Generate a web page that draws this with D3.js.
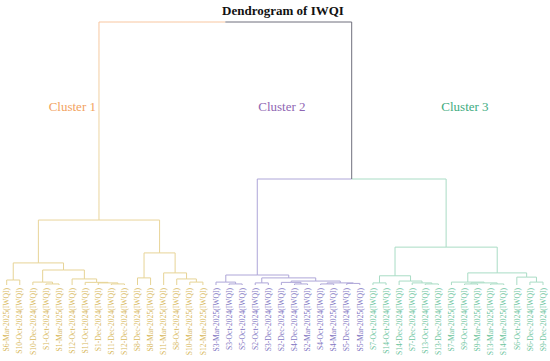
<!DOCTYPE html>
<html>
<head>
<meta charset="utf-8">
<script src="https://cdn.jsdelivr.net/npm/d3@7"></script>
<style>
  body { margin: 0; background: #fff; }
  text { font-family: "Liberation Serif", "Times New Roman", serif; }
</style>
</head>
<body>
<svg id="chart" width="550" height="361"></svg>
<script>
// leaf order as it appears along the bottom of the dendrogram
const leafLabels = [
  "S6-Mar-2025(IWQI)", "S10-Oct-2024(IWQI)", "S10-Dec-2024(IWQI)", "S1-Oct-2024(IWQI)",
  "S1-Mar-2025(IWQI)", "S12-Oct-2024(IWQI)", "S11-Oct-2024(IWQI)", "S1-Dec-2024(IWQI)",
  "S11-Dec-2024(IWQI)", "S12-Dec-2024(IWQI)", "S8-Dec-2024(IWQI)", "S8-Mar-2025(IWQI)",
  "S11-Mar-2025(IWQI)", "S8-Oct-2024(IWQI)", "S10-Mar-2025(IWQI)", "S12-Mar-2025(IWQI)",
  "S3-Mar-2025(IWQI)", "S3-Oct-2024(IWQI)", "S5-Oct-2024(IWQI)", "S2-Oct-2024(IWQI)",
  "S3-Dec-2024(IWQI)", "S2-Dec-2024(IWQI)", "S4-Dec-2024(IWQI)", "S2-Mar-2025(IWQI)",
  "S4-Oct-2024(IWQI)", "S4-Mar-2025(IWQI)", "S5-Dec-2024(IWQI)", "S5-Mar-2025(IWQI)",
  "S7-Oct-2024(IWQI)", "S14-Oct-2024(IWQI)", "S14-Dec-2024(IWQI)", "S7-Dec-2024(IWQI)",
  "S13-Oct-2024(IWQI)", "S13-Dec-2024(IWQI)", "S7-Mar-2025(IWQI)", "S9-Oct-2024(IWQI)",
  "S9-Mar-2025(IWQI)", "S13-Mar-2025(IWQI)", "S14-Mar-2025(IWQI)", "S6-Oct-2024(IWQI)",
  "S6-Dec-2024(IWQI)", "S9-Dec-2024(IWQI)"
];

// merges, scipy style: [left id, right id, distance]; new ids start at 42
const linkage = [
  [3, 4, 0.4], [2, 42, 1.1], [0, 1, 1.9], [8, 9, 0.4], [7, 45, 0.8],
  [6, 46, 1.0], [5, 47, 2.3], [43, 48, 5.7], [44, 49, 8.4], [10, 11, 2.7],
  [14, 15, 1.1], [13, 52, 2.3], [12, 53, 4.6], [51, 54, 12.2], [50, 55, 24.7],
  [17, 18, 0.4], [16, 57, 1.1], [19, 20, 0.8], [22, 23, 0.4], [21, 60, 1.0],
  [24, 25, 0.4], [26, 27, 0.6], [62, 63, 0.8], [61, 64, 1.5], [59, 65, 2.7],
  [58, 66, 3.8], [28, 29, 0.8], [32, 33, 0.4], [31, 69, 0.8], [30, 70, 1.5],
  [68, 71, 3.5], [35, 36, 0.4], [37, 38, 0.4], [73, 74, 0.8], [34, 75, 1.1],
  [40, 41, 1.1], [39, 77, 3.0], [76, 78, 4.6], [72, 79, 14.4], [67, 80, 40.3],
  [56, 81, 100]
];

const clusterNames = ["Cluster 1", "Cluster 2", "Cluster 3"];
const clusterTops = [56, 67, 80];   // node id heading each cluster
const TITLE = "Dendrogram of IWQI";

// colours
const LINE_COLORS = ["url(#grad1)", "#aea6d8", "#a9dcc5"];
const LEAF_COLORS = ["#d8b95e", "#7f76c2", "#6cc49d"];
const NAME_COLORS = ["#f2a25e", "#8f66b3", "#3eab80"];
const ABOVE_COLOR = "#6f6f7d";

const svg = d3.select("#chart");

const defs = svg.append("defs");
const N = leafLabels.length;
const x = d3.scalePoint().domain(d3.range(N)).range([6.7, 543]);
const y = d3.scaleLinear().domain([0, 100]).range([285, 22]);

const g1 = defs.append("linearGradient")
  .attr("id", "grad1")
  .attr("gradientUnits", "userSpaceOnUse")
  .attr("x1", 0).attr("x2", 0)
  .attr("y1", y(100)).attr("y2", y(0));
g1.append("stop").attr("offset", "0%").attr("stop-color", "#f8c6a0");
g1.append("stop").attr("offset", "45%").attr("stop-color", "#ecd6a2");
g1.append("stop").attr("offset", "100%").attr("stop-color", "#e6d394");

// build nodes
const nodes = d3.range(N).map(i => ({ id: i, x: x(i), h: 0, leaves: [i] }));
linkage.forEach(([a, b, h], k) => {
  const A = nodes[a], B = nodes[b];
  nodes.push({ id: N + k, x: (A.x + B.x) / 2, h: h, kids: [A, B],
               leaves: A.leaves.concat(B.leaves) });
});

const clusterOfLeaf = new Array(N);
clusterTops.forEach((t, c) => nodes[t].leaves.forEach(l => clusterOfLeaf[l] = c));
nodes.forEach(n => {
  const s = new Set(n.leaves.map(l => clusterOfLeaf[l]));
  n.cluster = s.size === 1 ? [...s][0] : -1;
});

// one path per parent->child link
const links = [];
nodes.filter(n => n.kids).forEach(n => {
  n.kids.forEach(c => links.push({ parent: n, child: c }));
});

svg.append("g")
  .selectAll("path")
  .data(links)
  .join("path")
  .attr("d", d => `M${d.child.x},${y(d.child.h)}V${y(d.parent.h)}H${d.parent.x}`)
  .attr("fill", "none")
  .attr("stroke", d => d.child.cluster >= 0 ? LINE_COLORS[d.child.cluster] : ABOVE_COLOR)
  .attr("stroke-width", 1);

// leaf labels
svg.append("g")
  .selectAll("text")
  .data(leafLabels)
  .join("text")
  .attr("transform", (d, i) => `translate(${x(i)},${y(0) + 3}) rotate(-90)`)
  .attr("text-anchor", "end")
  .attr("dy", "0.35em")
  .attr("font-size", 7.6)
  .attr("fill", (d, i) => LEAF_COLORS[clusterOfLeaf[i]])
  .text(d => d);

// cluster names
const nameDx = [0, -6, 7];
svg.append("g")
  .selectAll("text")
  .data(clusterNames)
  .join("text")
  .attr("x", (d, c) => {
    if (c === 0) return nodes[clusterTops[0]].x - 3;
    const lv = nodes[clusterTops[c]].leaves.map(l => x(l));
    return d3.mean(d3.extent(lv)) + nameDx[c];
  })
  .attr("y", 111)
  .attr("text-anchor", (d, c) => c === 0 ? "end" : "middle")
  .attr("font-size", 13)
  .attr("fill", (d, c) => NAME_COLORS[c])
  .text(d => d);

svg.append("text")
  .attr("x", 283)
  .attr("y", 15)
  .attr("text-anchor", "middle")
  .attr("font-size", 13)
  .attr("font-weight", "bold")
  .attr("fill", "#111")
  .text(TITLE);
</script>
</body>
</html>
